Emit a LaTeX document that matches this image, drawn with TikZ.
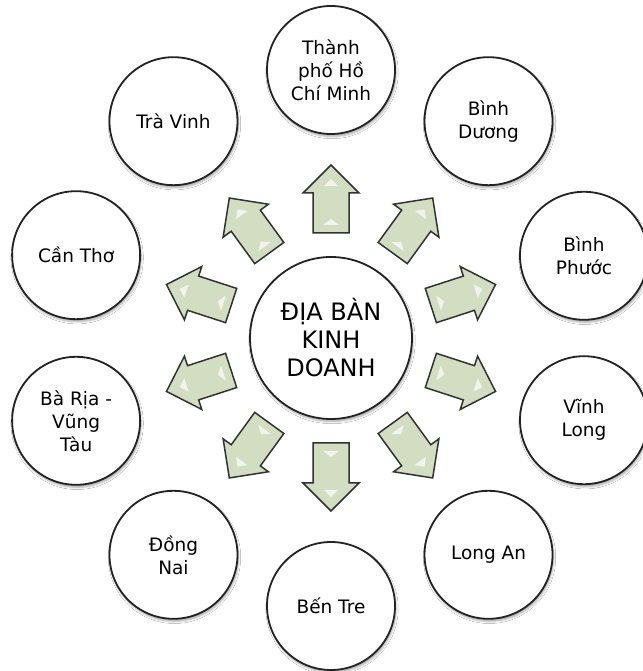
\documentclass[tikz,border=0pt]{standalone}
\usepackage{fontspec}
\setmainfont{DejaVu Sans}
\usetikzlibrary{shadows.blur,calc}
\definecolor{arrowfill}{RGB}{210,221,193}
\definecolor{arrowline}{RGB}{50,50,50}
\definecolor{ringline}{RGB}{35,35,35}
\tikzset{
 place/.style={circle, draw=ringline, line width=1.8pt, fill=white, minimum size=128pt,
   inner sep=0pt, align=center, font=\fontsize{18.5}{23}\selectfont,
   blur shadow={shadow xshift=1pt, shadow yshift=-2.5pt, shadow blur steps=5, shadow opacity=35}},
 hub/.style={place, minimum size=162pt, font=\fontsize{24}{28}\selectfont},
 blockarrow/.style={fill=arrowfill, draw=arrowline, line width=1.5pt, line join=miter},
 gloss/.style={fill=white, opacity=0.7}
}
\begin{document}
\begin{tikzpicture}[x=1pt,y=1pt]
\useasboundingbox (0,0) rectangle (642,671);
\fill[white] (0,0) rectangle (642,671);
\coordinate (C) at (331,333);
\node[hub] (hub) at (C) {ĐỊA BÀN\\KINH\\DOANH};
\node[place] (hcm) at ($(C)+(90:268)$) {Thành\\phố Hồ\\Chí Minh};
\node[place] (bd) at ($(C)+(54:268)$) {Bình\\Dương};
\node[place] (bp) at ($(C)+(18:266)$) {Bình\\Phước};
\node[place] (vl) at ($(C)+(-18:266)$) {Vĩnh\\Long};
\node[place] (la) at ($(C)+(-54:268)$) {Long An};
\node[place] (bt) at ($(C)+(-90:268)$) {Bến Tre};
\node[place] (dn) at ($(C)+(-126:268)$) {Đồng\\Nai};
\node[place] (br) at ($(C)+(-162:268)$) {Bà Rịa -\\Vũng\\Tàu};
\node[place] (ct) at ($(C)+(162:268)$) {Cần Thơ};
\node[place] (tv) at ($(C)+(126:268)$) {Trà Vinh};
\foreach \a in {90,54,18,-18,-54,-90,-126,-162,162,126}{
  \begin{scope}[shift={(hub.center)}, rotate=\a]
    \draw[blockarrow] (105,-18) -- (145,-18) -- (145,-28) -- (173,0) -- (145,28) -- (145,18) -- (105,18) -- cycle;
    \fill[gloss] (113,-8) -- (119,0) -- (113,8) -- cycle;
    \fill[gloss] (152,-7) -- (159,0) -- (152,7) -- cycle;
  \end{scope}
}
\end{tikzpicture}
\end{document}
